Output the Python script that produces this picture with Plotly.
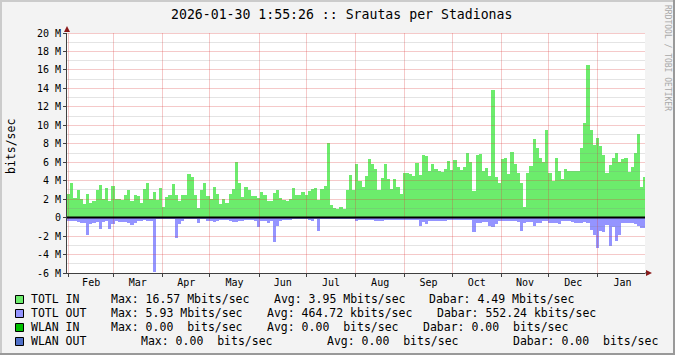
import math
import plotly.graph_objects as go
import pandas as pd

# ---------------- data (Mbit/s, one value per 2-day bin) ----------------
in_mbps = [
    2.6, 3.7, 2.1, 3.0, 2.0, 1.5, 2.6, 1.6, 1.8, 3.0,
    3.5, 2.0, 3.2, 1.8, 3.4, 2.0, 2.0, 1.9, 2.4, 3.0,
    1.8, 2.4, 2.3, 1.6, 3.1, 3.8, 2.0, 2.8, 1.9, 3.2,
    1.1, 2.2, 2.4, 3.6, 2.5, 1.8, 2.4, 2.5, 4.7, 4.4,
    2.4, 1.0, 3.0, 3.8, 2.3, 2.0, 3.3, 2.6, 1.5, 2.0,
    1.6, 2.6, 3.1, 6.05, 3.8, 2.2, 3.3, 3.0, 2.3, 2.3,
    2.1, 2.8, 2.4, 1.8, 1.8, 2.7, 3.0, 2.1, 1.9, 1.8,
    2.0, 3.2, 2.5, 2.5, 2.8, 2.4, 2.9, 3.1, 3.2, 1.9,
    3.1, 3.4, 8.1, 1.4, 1.0, 0.9, 1.1, 0.9, 3.0, 4.6,
    3.0, 5.8, 4.0, 3.3, 4.5, 6.3, 5.8, 5.3, 3.0, 4.3,
    5.8, 4.2, 3.1, 4.2, 3.3, 2.6, 4.8, 4.8, 4.7, 4.5,
    5.9, 4.6, 6.8, 6.7, 5.0, 5.8, 5.3, 5.1, 4.9, 5.3,
    6.1, 5.2, 6.2, 5.5, 5.2, 5.5, 7.0, 6.0, 2.9, 6.8,
    6.85, 5.0, 5.4, 4.5, 13.85, 4.4, 3.7, 6.4, 6.5, 4.7,
    7.15, 5.8, 4.8, 3.7, 1.2, 4.8, 5.6, 8.5, 7.5, 6.5,
    6.0, 9.5, 4.8, 4.0, 6.5, 5.0, 4.2, 5.3, 5.0, 5.0,
    5.0, 5.0, 7.5, 10.3, 16.57, 9.5, 7.9, 8.6, 7.8, 6.8,
    4.8, 5.7, 6.5, 7.0, 6.0, 6.4, 6.5, 4.9, 5.5, 7.0,
    9.1, 3.3, 4.4,
]
out_mbps = [
    0.35, 0.35, 0.35, 0.5, 0.6, 0.6, 1.9, 0.7, 0.6, 0.5,
    1.2, 0.5, 0.4, 1.2, 0.7, 0.4, 0.45, 0.45, 0.5, 0.6,
    0.8, 0.6, 0.4, 0.4, 0.3, 0.4, 0.4, 5.93, 0.2, 0.2,
    0.15, 0.2, 0.2, 0.2, 2.2, 0.7, 0.4, 0.2, 0.15, 0.2,
    0.2, 0.6, 0.2, 0.2, 0.35, 0.4, 0.45, 0.35, 0.3, 0.3,
    0.3, 0.35, 0.45, 0.45, 0.4, 0.35, 0.3, 0.3, 0.3, 0.35,
    1.0, 0.4, 0.4, 0.55, 0.4, 2.6, 0.9, 0.4, 0.3, 0.25,
    0.25, 0.2, 0.2, 0.15, 0.2, 0.2, 0.3, 0.35, 0.2, 1.4,
    0.2, 0.2, 0.2, 0.2, 0.15, 0.15, 0.2, 0.2, 0.2, 0.2,
    0.2, 0.4, 0.3, 0.25, 0.25, 0.25, 0.25, 0.35, 0.35, 0.35,
    0.25, 0.25, 0.25, 0.25, 0.25, 0.25, 0.25, 0.25, 0.25, 0.25,
    0.25, 0.9, 0.5, 0.7, 0.35, 0.35, 0.35, 0.35, 0.35, 0.35,
    0.25, 0.25, 0.25, 0.25, 0.25, 0.25, 0.25, 0.25, 1.55, 0.55,
    0.55, 0.45, 0.45, 0.9, 1.0, 0.7, 0.4, 0.35, 0.35, 0.35,
    0.35, 0.35, 0.5, 1.45, 0.55, 0.5, 0.5, 0.9, 0.6, 0.6,
    0.4, 0.4, 0.6, 0.55, 0.55, 0.7, 0.36, 0.36, 0.36, 0.45,
    0.55, 0.55, 0.55, 0.5, 0.6, 1.33, 1.9, 3.25, 1.5, 1.55,
    0.8, 3.06, 1.0, 2.5, 1.9, 0.6, 0.6, 0.6, 0.6, 0.7,
    0.9, 1.1, 1.1,
]
series_start = "2025-01-30 18:00"
range_start = "2025-01-30 18:00"
range_end = "2026-01-30 18:00"

y_min, y_max = -6, 20
y_tick_vals = [-6, -4, -2, 0, 2, 4, 6, 8, 10, 12, 14, 16, 18, 20]
y_tick_text = ["-6 M", "-4 M", "-2 M", "0", "2 M", "4 M", "6 M", "8 M",
               "10 M", "12 M", "14 M", "16 M", "18 M", "20 M"]

title_text = "2026-01-30 1:55:26 :: Srautas per Stadionas"
unit_text = "bits/sec"
watermark = "RRDTOOL / TOBI OETIKER"

legend_names = ["TOTL IN", "TOTL OUT", "WLAN IN", "WLAN OUT"]
legend_colors = ["#6CEC6C", "#9494FF", "#00C000", "#5070C8"]
legend_max = ["Max: 16.57 Mbits/sec", "Max: 5.93 Mbits/sec",
              "Max: 0.00  bits/sec", "Max: 0.00  bits/sec"]
legend_avg = ["Avg: 3.95 Mbits/sec", "Avg: 464.72 kbits/sec",
              "Avg: 0.00  bits/sec", "Avg: 0.00  bits/sec"]
legend_now = ["Dabar: 4.49 Mbits/sec", "Dabar: 552.24 kbits/sec",
              "Dabar: 0.00  bits/sec", "Dabar: 0.00  bits/sec"]

# ---------------- layout geometry (pixels) ----------------
W, H = 675, 355
L, R, T, B = 67, 645, 33, 273
FONT = "DejaVu Sans Mono"
MAJOR_GRID = "rgba(220,60,60,0.28)"
MINOR_GRID = "rgba(130,130,130,0.22)"


def px(x):
    return (x - L) / (R - L)


def py(y):
    return (B - y) / (B - T)


def crisp(p):
    return math.floor(p) + 0.5


x_bins = pd.date_range(series_start, periods=len(in_mbps), freq="2D")
bin_ms = 2 * 86400000

fig = go.Figure()
fig.add_trace(go.Bar(x=x_bins, y=in_mbps, width=bin_ms, offset=0,
                     marker=dict(color=legend_colors[0], line=dict(width=0)),
                     hoverinfo="skip", showlegend=False))
fig.add_trace(go.Bar(x=x_bins, y=[-v for v in out_mbps], width=bin_ms, offset=0,
                     marker=dict(color=legend_colors[1], line=dict(width=0)),
                     hoverinfo="skip", showlegend=False))

shapes = []
# horizontal grid (drawn above the bars, as rrdtool does)
for v in range(y_min + 1, y_max + 1):
    major = (v % 2 == 0)
    ypix = crisp(T + (y_max - v) * (B - T) / (y_max - y_min))
    if v == y_max:
        ypix = T + 0.5
    shapes.append(dict(type="line", xref="paper", yref="paper", x0=0, x1=1,
                       y0=py(ypix), y1=py(ypix), layer="above",
                       line=dict(color=MAJOR_GRID if major else MINOR_GRID, width=1)))
# vertical grid at month starts
t0 = pd.Timestamp(range_start)
t1 = pd.Timestamp(range_end)
for d in pd.date_range("2025-02-01", "2026-01-01", freq="MS"):
    xpix = crisp(L + (d - t0) / (t1 - t0) * (R - L))
    shapes.append(dict(type="line", xref="paper", yref="paper", x0=px(xpix), x1=px(xpix),
                       y0=0, y1=1, layer="above",
                       line=dict(color=MAJOR_GRID, width=1)))
# zero line
shapes.append(dict(type="line", xref="paper", yref="y", x0=0, x1=1, y0=0, y1=0,
                   layer="above", line=dict(color="#000000", width=2)))
# arrows
arrow_c = "#8B1A1A"
shapes.append(dict(type="path", xref="paper", yref="paper", layer="above",
                   path=f"M {px(64)} {py(32)} L {px(70)} {py(32)} L {px(67)} {py(26)} Z",
                   fillcolor=arrow_c, line=dict(width=0)))
shapes.append(dict(type="path", xref="paper", yref="paper", layer="above",
                   path=f"M {px(646)} {py(270)} L {px(646)} {py(276)} L {px(652)} {py(273)} Z",
                   fillcolor=arrow_c, line=dict(width=0)))
shapes.append(dict(type="line", xref="paper", yref="paper", x0=px(645), x1=px(647),
                   y0=py(273), y1=py(273), layer="above", line=dict(color="#404040", width=1)))
# image frame
shapes.append(dict(type="rect", xref="paper", yref="paper", x0=px(0), x1=px(W), y0=py(0), y1=py(2),
                   fillcolor="#CBCBCB", line=dict(width=0)))
shapes.append(dict(type="rect", xref="paper", yref="paper", x0=px(0), x1=px(2), y0=py(0), y1=py(H),
                   fillcolor="#CBCBCB", line=dict(width=0)))
shapes.append(dict(type="rect", xref="paper", yref="paper", x0=px(0), x1=px(W), y0=py(H - 2), y1=py(H),
                   fillcolor="#999999", line=dict(width=0)))
shapes.append(dict(type="rect", xref="paper", yref="paper", x0=px(W - 2), x1=px(W), y0=py(0), y1=py(H),
                   fillcolor="#999999", line=dict(width=0)))

annotations = []


def text(x, y, s, size, anchor="left", color="#000000", angle=0):
    annotations.append(dict(x=px(x), y=py(y), xref="paper", yref="paper", text=s.replace(" ", "\u00a0"),
                            showarrow=False, xanchor=anchor, yanchor="middle", textangle=angle,
                            font=dict(family=FONT, size=size, color=color), borderpad=0))


text(341, 14, title_text, 13.2, anchor="center")
text(11, 147, unit_text, 11.5, anchor="center", angle=-90)
text(667, 58, watermark, 8, anchor="center", color="#A8A8A8", angle=90)

leg_y = [299, 313, 327, 341]
max_x = [110, 110, 110, 140]
avg_x = [273, 266, 266, 326]
now_x = [428, 436, 422, 512]
for i in range(4):
    yc = leg_y[i]
    shapes.append(dict(type="rect", xref="paper", yref="paper",
                       x0=px(15.5), x1=px(23.5), y0=py(yc + 4.5), y1=py(yc - 3.5),
                       fillcolor=legend_colors[i], line=dict(color="#000000", width=1)))
    text(30, yc, legend_names[i], 11.5)
    text(max_x[i], yc, legend_max[i], 11.5)
    text(avg_x[i], yc, legend_avg[i], 11.5)
    text(now_x[i], yc, legend_now[i], 11.5)

fig.update_layout(
    width=W, height=H,
    margin=dict(l=L, r=W - R, t=T, b=H - B, pad=0),
    paper_bgcolor="#F3F3F3", plot_bgcolor="#FFFFFF",
    barmode="overlay", bargap=0,
    showlegend=False,
    shapes=shapes, annotations=annotations,
    font=dict(family=FONT, size=10, color="#000000"),
    xaxis=dict(type="date", range=[range_start, range_end],
               tick0="2025-02-01", dtick="M1", tickformat="%b", ticklabelmode="period",
               ticklabelstandoff=-3,
               showgrid=False, zeroline=False, showline=True, linecolor="#404040", linewidth=1,
               ticks="outside", ticklen=3, tickcolor="#404040",
               tickfont=dict(family=FONT, size=10, color="#000000"), fixedrange=True),
    yaxis=dict(range=[y_min, y_max], tickvals=y_tick_vals, ticktext=y_tick_text,
               showgrid=False, zeroline=False, showline=True, linecolor="#404040", linewidth=1,
               ticks="outside", ticklen=3, tickcolor="#404040",
               tickfont=dict(family=FONT, size=10, color="#000000"), fixedrange=True),
)

fig.write_html("out.html", config={"displayModeBar": False, "staticPlot": True})
